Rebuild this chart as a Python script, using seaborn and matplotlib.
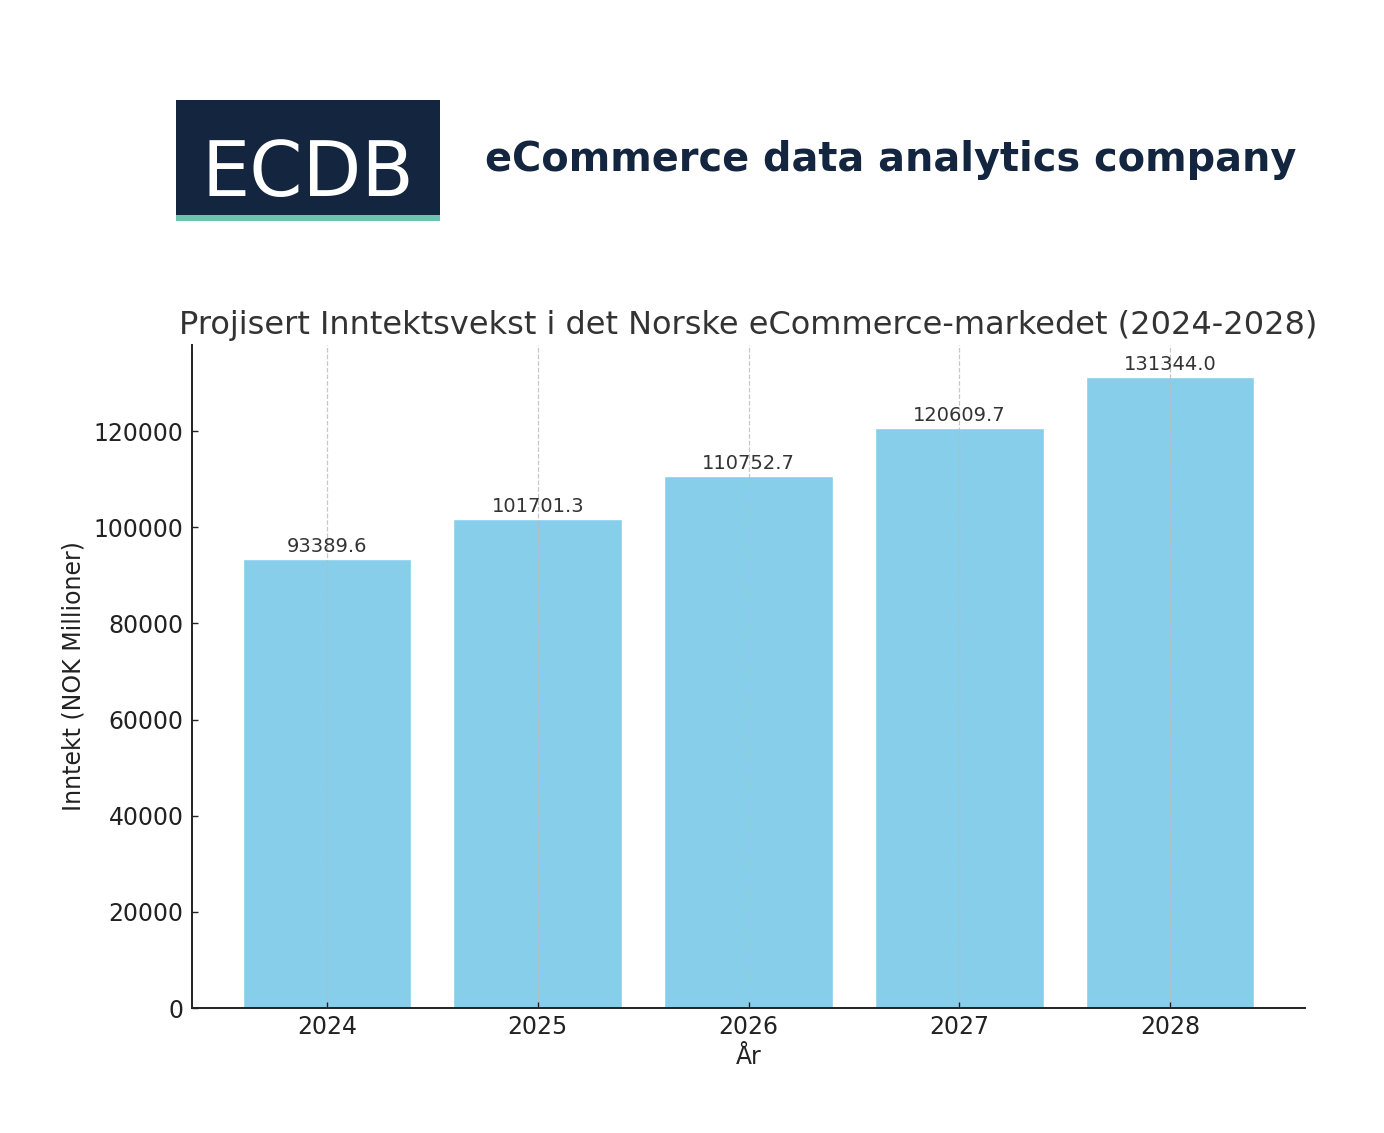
import matplotlib
matplotlib.use("Agg")
import matplotlib.pyplot as plt
import seaborn as sns
import pandas as pd
from matplotlib.patches import Rectangle

years = ["2024", "2025", "2026", "2027", "2028"]
revenue = [93389.6, 101701.3, 110752.7, 120609.7, 131344.0]
yticks = [0, 20000, 40000, 60000, 80000, 100000, 120000]

title = "Projisert Inntektsvekst i det Norske eCommerce-markedet (2024-2028)"
xlabel = "År"
ylabel = "Inntekt (NOK Millioner)"
logo_text = "ECDB"
tagline = "eCommerce data analytics company"

sns.set_theme(style="white")
plt.rcParams['font.family'] = ['DejaVu Sans']

df = pd.DataFrame({"year": years, "revenue": revenue})

fig = plt.figure(figsize=(13.84, 11.33), dpi=100)
ax = fig.add_axes([192/1384, 1 - 1008/1133, (1305-192)/1384, (1008-345)/1133])

sns.barplot(data=df, x="year", y="revenue", color="#87CEEB", saturation=1,
            width=0.8, ax=ax, errorbar=None)
ax.set_xlim(-0.64, 4.64)
ax.set_ylim(0, max(revenue) * 1.05)

for c in ax.containers:
    ax.bar_label(c, labels=[f"{v:.1f}" for v in revenue], padding=2,
                 fontsize=14, color="#333333")

ax.xaxis.grid(True, linestyle="--", color="#bbbbbb", linewidth=0.9, alpha=0.8)
ax.yaxis.grid(False)
ax.set_axisbelow(False)

for s in ["top", "right"]:
    ax.spines[s].set_visible(False)
for s in ["left", "bottom"]:
    ax.spines[s].set_color("#222222")
    ax.spines[s].set_linewidth(1.4)

ax.tick_params(axis="both", which="major", labelsize=17, colors="#222222",
               length=4.5, width=1.0, direction="in", bottom=True, left=True)
ax.tick_params(axis="y", pad=6)
ax.tick_params(axis="x", pad=5)
ax.set_yticks(yticks)
ax.set_yticklabels([str(v) for v in yticks])
ax.set_xlabel(xlabel, fontsize=17, color="#222222", labelpad=4)
ax.set_ylabel(ylabel, fontsize=17, color="#222222", labelpad=6)
ax.set_title(title, fontsize=23, color="#333333", pad=8)

# Logo
navy = "#13253F"
fig.patches.append(Rectangle((176/1384, 1 - 215/1133), (440-176)/1384, (215-100)/1133,
                             transform=fig.transFigure, facecolor=navy, edgecolor="none"))
fig.patches.append(Rectangle((176/1384, 1 - 221/1133), (440-176)/1384, 6/1133,
                             transform=fig.transFigure, facecolor="#6CC4B0", edgecolor="none"))
fig.text(308/1384, 1 - 196/1133, logo_text, ha="center", va="baseline", color="white",
         fontsize=55, family=["DejaVu Sans"], fontweight="normal")
fig.text(485/1384, 1 - 171/1133, tagline, ha="left", va="baseline", color=navy,
         fontsize=28.7, family=["DejaVu Sans"], fontweight="bold")

fig.savefig("out.png", dpi=100, facecolor="white")
